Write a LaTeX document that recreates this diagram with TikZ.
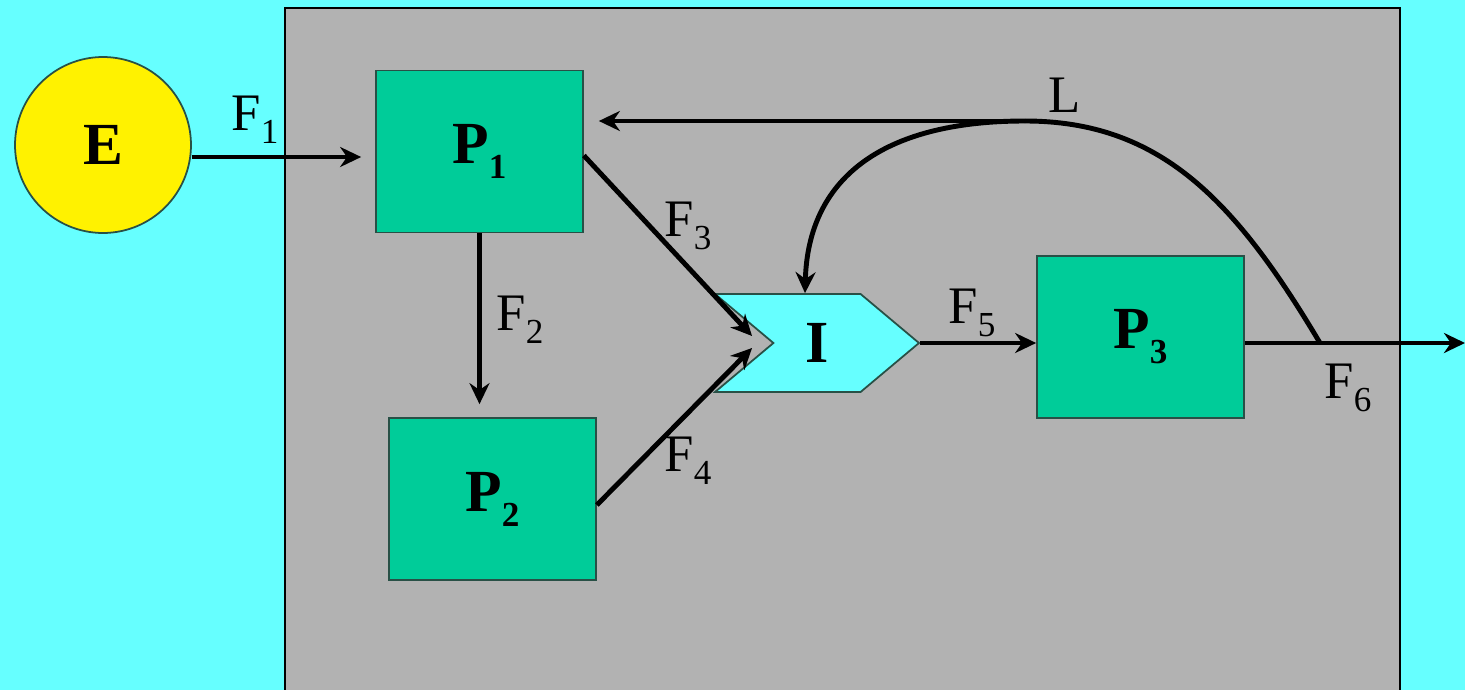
\documentclass[tikz,border=0pt]{standalone}
\usepackage{fontspec}
\setmainfont{Liberation Serif}
\usetikzlibrary{arrows.meta,shapes.symbols,calc}
\definecolor{skyc}{RGB}{102,255,255}
\definecolor{boxgray}{RGB}{178,178,178}
\definecolor{procgreen}{RGB}{0,204,153}
\definecolor{edgedark}{RGB}{40,80,70}
\newcommand{\lsub}[1]{\raisebox{-0.25em}{\fontsize{20}{20}\selectfont #1}}

\begin{document}
\begin{tikzpicture}[x=0.02cm, y=-0.02cm, >={Stealth[length=0.42cm,width=0.4cm]}]
    \tikzstyle{proc node} = [rectangle, draw=edgedark, line width=1pt, fill=procgreen, minimum width=4.14cm, minimum height=3.24cm, font=\fontsize{34}{40}\selectfont\bfseries]
    \tikzstyle{flow} = [->, line width=2.8pt]
    \tikzstyle{flow label} = [font=\fontsize{30}{36}\selectfont, inner sep=0pt]
    \useasboundingbox (0,0) rectangle (1465,690);
    % background and system boundary
    \fill[skyc] (0,0) rectangle (1465,690);
    \fill[boxgray] (285,8) rectangle (1400,690);
    \draw[line width=1pt] (285,690) -- (285,8) -- (1400,8) -- (1400,690);
    % nodes
    \node[circle, draw=edgedark, line width=1pt, fill=yellow, minimum size=3.52cm, font=\fontsize{34}{40}\selectfont\bfseries] (E) at (103,145) {E};
    \node[proc node] (P1) at (479.5,151.5) {P\lsub{1}};
    \node[proc node] (P2) at (492.5,499) {P\lsub{2}};
    \node[proc node] (P3) at (1140.5,337) {P\lsub{3}};
    \node[signal, signal to=east, signal from=west, signal pointer angle=80, draw=edgedark, line width=1pt, fill=skyc, minimum width=4.08cm, minimum height=1.96cm, font=\fontsize{34}{40}\selectfont\bfseries] (I) at (817,343) {I};
    \coordinate (j6) at (1320,343);
    \coordinate (lt) at (1025,121);
    \coordinate (out) at (1465,343);
    % flows
    \draw[flow, shorten >=0.28cm] ($(E.east)+(0,12)$) -- ($(E.east -| P1.west)+(0,12)$);
    \draw[flow, shorten >=0.26cm] (P1.south) -- (P1.south |- P2.north);
    \draw[flow] ($(P1.east)+(0,4)$) -- ($(I.west)+(-20,-7)$);
    \draw[flow] ($(P2.east)+(0,6)$) -- ($(I.west)+(-20,5)$);
    \draw[flow] (I.east) -- (P3.west |- I.east);
    \draw[flow] (P3.east |- out) -- (out);
    % loop L
    \draw[line width=2.8pt] (j6) .. controls (1235,200) and (1160,121) .. (lt);
    \draw[flow, shorten >=0.3cm] (lt) -- (lt -| P1.east);
    \draw[flow] (lt) .. controls (880,121) and (808,180) .. ($(I.north)+(-12,0)$);
    % labels
    \node[flow label] (lF1) at (255,120) {F\lsub{1}};
    \node[flow label] (lF2) at (520,320) {F\lsub{2}};
    \node[flow label] (lF3) at (688,226) {F\lsub{3}};
    \node[flow label] (lF4) at (688,461) {F\lsub{4}};
    \node[flow label] (lF5) at (972,313) {F\lsub{5}};
    \node[flow label] (lF6) at (1348,388) {F\lsub{6}};
    \node[flow label] (lL) at (1065,95) {L};
\end{tikzpicture}
\end{document}
